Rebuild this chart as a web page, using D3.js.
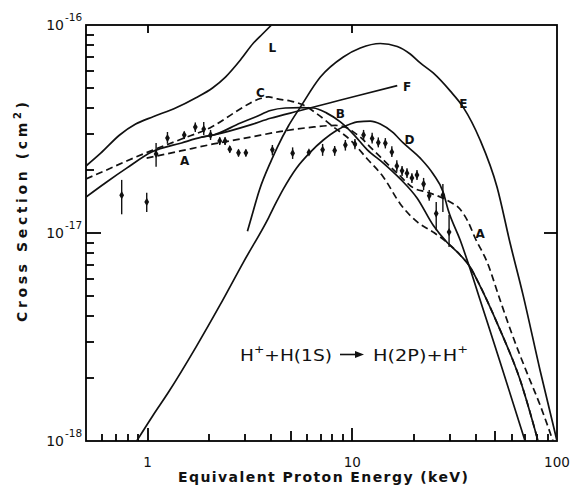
<!DOCTYPE html>
<html><head><meta charset="utf-8">
<script src="https://cdn.jsdelivr.net/npm/d3@7"></script>
<style>body{margin:0;background:#fff}svg{display:block}text{fill:#111}</style>
</head><body>
<svg id="c" width="573" height="496"></svg>
<script>
// ---- data: energy (keV), cross section in units of 1e-17 cm^2 ----
const UNIT = 1e-17;
const curveL = [[0.5,2.10],[0.59,2.42],[0.73,2.96],[0.874,3.34],[1.07,3.63],[1.385,4.01],[1.714,4.46],[2.075,4.98],[2.40,5.62],[2.84,6.79],[3.29,8.19],[3.64,9.05],[4.03,10]];
const curveC = [[0.5,1.82],[0.631,2.01],[0.79,2.22],[1.046,2.49],[1.465,2.83],[2.052,3.23],[2.687,3.82],[3.18,4.22],[3.558,4.43],[3.892,4.51],[4.306,4.41],[4.984,4.31],[5.768,4.12],[6.75,3.73],[8.078,3.24],[9.777,2.80],[11.84,2.27],[14.17,1.86],[17.15,1.38],[20.75,1.13],[24.84,1.01],[29.07,0.90],[33.64,0.784],[37.64,0.686],[40.72,0.594],[52.72,0.342],[66.01,0.197],[80.8,0.1]];
const curveB = [[0.5,1.49],[0.631,1.76],[0.79,2.05],[1.046,2.45],[1.465,2.71],[1.834,2.89],[2.099,2.96],[2.842,3.38],[3.364,3.61],[3.981,3.88],[4.711,3.99],[5.577,4.01],[6.454,3.99],[7.468,3.78],[8.74,3.42],[10.11,2.99],[11.84,2.51],[14.17,2.17],[17.15,1.82],[20.75,1.47],[24.84,1.09],[29.07,0.90],[33.64,0.784],[37.64,0.686],[40.72,0.594],[52.72,0.342],[66.01,0.197],[80.8,0.1]];
const curveF = [[1.834,2.89],[2.099,2.96],[3.18,3.31],[3.981,3.56],[5.577,3.88],[7.811,4.23],[10.94,4.61],[16.58,5.11]];
const curveD = [[0.884,0.1],[1.058,0.132],[1.266,0.172],[1.734,0.286],[2.245,0.446],[2.94,0.725],[3.892,1.18],[4.259,1.41],[4.607,1.63],[5.332,2.05],[6.24,2.45],[7.221,2.80],[8.449,3.13],[9.777,3.34],[10.58,3.42],[12.24,3.45],[13.7,3.34],[15.67,3.06],[17.74,2.71],[21.47,2.29],[24.84,1.92],[27.8,1.57],[29.4,1.29],[33.64,0.925],[37.64,0.671],[42.11,0.476],[52.72,0.240],[69.83,0.1]];
const curveE = [[3.075,1.02],[3.216,1.19],[3.518,1.61],[4.027,2.24],[4.306,2.59],[4.873,3.27],[5.577,4.03],[6.982,5.62],[9.04,7.02],[10.94,7.75],[13.7,8.15],[16.58,7.88],[19.18,7.25],[21.47,6.57],[24.84,5.88],[30.06,4.82],[34.79,4.03],[42.11,2.80],[50.97,1.66],[58.99,0.895],[68.28,0.503],[82.64,0.219],[100,0.1]];
const curveA = [[0.989,2.29],[1.449,2.48],[2.099,2.68],[3.18,2.89],[4.404,3.07],[6.24,3.22],[8.263,3.29],[9.245,3.23],[10.0,3.09],[10.94,2.89],[12.24,2.59],[13.7,2.32],[16.58,1.94],[19.84,1.65],[23.22,1.57],[26.87,1.49],[30.06,1.41],[33.64,1.30],[36.81,1.13],[39.81,0.946],[45.56,0.725],[52.72,0.476],[61.02,0.316],[71.43,0.212],[82.64,0.149],[95.6,0.1]];
// measured points: [energy, value, low, high]
const measured = [[0.747,1.52,1.23,1.80],[0.99,1.41,1.26,1.56],[1.10,2.40,2.08,2.71],[1.25,2.86,2.69,3.06],[1.51,2.96,2.83,3.08],[1.71,3.23,3.06,3.40],[1.88,3.16,2.96,3.42],[2.03,2.96,2.80,3.13],[2.25,2.77,2.65,2.89],[2.39,2.77,2.65,2.89],[2.52,2.53,2.43,2.62],[2.78,2.43,2.33,2.52],[3.02,2.43,2.33,2.52],[4.07,2.51,2.36,2.65],[5.11,2.42,2.27,2.58],[6.14,2.44,2.41,2.47],[7.16,2.51,2.35,2.68],[8.20,2.49,2.35,2.62],[9.25,2.65,2.49,2.80],[10.3,2.68,2.53,2.83],[11.35,2.96,2.80,3.13],[12.5,2.85,2.69,3.03],[13.4,2.72,2.58,2.88],[14.5,2.70,2.55,2.86],[15.6,2.45,2.32,2.61],[16.5,2.10,1.97,2.24],[17.5,1.99,1.88,2.10],[18.5,1.94,1.84,2.05],[19.55,1.84,1.74,1.94],[20.7,1.90,1.80,2.01],[22.3,1.72,1.61,1.84],[23.75,1.51,1.43,1.61],[25.7,1.24,1.03,1.41],[27.7,1.52,1.26,1.72],[29.7,1.01,0.857,1.22]];
const curveLabels = [["L",4.07,7.84],["C",3.56,4.76],["B",8.74,3.78],["F",18.5,5.09],["E",34.9,4.20],["D",19.0,2.83],["A",1.515,2.24],["A",42.1,1.0]];
const xTickLabels = [[1,"1"],[10,"10"],[100,"100"]];
const yTickExponents = [-16,-17,-18];
const xMinor = [0.6,0.7,0.8,0.9,2,3,4,6,7,8,9,20,30,40,60,70,80,90];
const xMid = [5,50];
const xMajor = [1,10];
const yMinor = [2e-18,3e-18,4e-18,5e-18,6e-18,7e-18,8e-18,9e-18,2e-17,3e-17,4e-17,5e-17,6e-17,7e-17,8e-17,9e-17];
const yMajor = [1e-17];

const svg = d3.select("#c");
const L = 86, R = 557, T = 25, B = 441;
const x = d3.scaleLog().domain([0.5,100]).range([L,R]);
const y = d3.scaleLog().domain([1e-18,1e-16]).range([B,T]);
const FONT = "'DejaVu Sans', sans-serif";

svg.append("defs").append("clipPath").attr("id","clip")
  .append("rect").attr("x",L).attr("y",T).attr("width",R-L).attr("height",B-T);

// ticks (inside the frame)
const tg = svg.append("g").attr("stroke","#000").attr("stroke-width",1.8);
function xTicks(vals, y0, len){
  tg.selectAll(null).data(vals).join("line")
    .attr("x1",d=>Math.round(x(d))).attr("x2",d=>Math.round(x(d))).attr("y1",y0).attr("y2",y0+len);
}
function yTicks(vals, x0, len){
  tg.selectAll(null).data(vals).join("line")
    .attr("y1",d=>Math.round(y(d))).attr("y2",d=>Math.round(y(d))).attr("x1",x0).attr("x2",x0+len);
}
xTicks(xMinor, B, -7);
xTicks(xMid, B, -10);
xTicks(xMajor, B, -13);
xTicks(xMajor, T, 8);
yTicks(yMinor, L, 8);
yTicks(yMajor, L, 15);
yTicks(yMajor, R, -13);

// frame
svg.append("rect").attr("x",L).attr("y",T).attr("width",R-L).attr("height",B-T)
  .attr("fill","none").attr("stroke","#000").attr("stroke-width",1.8);

// tick labels
svg.selectAll(".xl").data(xTickLabels).join("text")
  .attr("x",d=>x(d[0])).attr("y",467).attr("text-anchor","middle")
  .attr("font-family",FONT).attr("font-size",13.5).text(d=>d[1]);
yTickExponents.forEach(e=>{
  const yy = y(Math.pow(10,e));
  svg.append("text").attr("x",64).attr("y",yy+5).attr("text-anchor","end")
    .attr("font-family",FONT).attr("font-size",14).text("10");
  svg.append("text").attr("x",65).attr("y",yy-4).attr("font-family",FONT)
    .attr("font-size",10.5).text(String(e));
});

// axis titles
svg.append("text").attr("x",323).attr("y",482).attr("text-anchor","middle")
  .attr("font-family",FONT).attr("font-size",14).attr("font-weight","bold")
  .attr("textLength",290).attr("lengthAdjust","spacing")
  .text("Equivalent Proton Energy (keV)");
const yt = svg.append("text").attr("transform","translate(27,212) rotate(-90)")
  .attr("text-anchor","middle").attr("font-family",FONT).attr("font-size",14)
  .attr("font-weight","bold").attr("textLength",220).attr("lengthAdjust","spacing");
yt.append("tspan").text("Cross Section (cm");
yt.append("tspan").attr("font-size",10).attr("dy",-6).text("2");
yt.append("tspan").attr("dy",6).text(")");

// curves
const line = d3.line().x(d=>x(d[0])).y(d=>y(d[1]*UNIT)).curve(d3.curveMonotoneX);
const plot = svg.append("g").attr("clip-path","url(#clip)");
const series = [
  {d:curveL, dash:null},{d:curveE, dash:null},{d:curveD, dash:null},
  {d:curveB, dash:null},{d:curveF, dash:null},
  {d:curveC, dash:"7,4"},{d:curveA, dash:"7,4"}
];
series.forEach(s=>{
  plot.append("path").attr("d",line(s.d)).attr("fill","none").attr("stroke","#111")
    .attr("stroke-width",1.7).attr("stroke-dasharray",s.dash);
});

// measured points
const pg = plot.append("g");
pg.selectAll("line").data(measured).join("line")
  .attr("x1",d=>x(d[0])).attr("x2",d=>x(d[0]))
  .attr("y1",d=>y(d[2]*UNIT)).attr("y2",d=>y(d[3]*UNIT))
  .attr("stroke","#111").attr("stroke-width",1.4);
const sym = d3.symbol().type(d3.symbolDiamond).size(20);
pg.selectAll("path").data(measured).join("path")
  .attr("d",sym).attr("transform",d=>`translate(${x(d[0])},${y(d[1]*UNIT)})`)
  .attr("fill","#111");

// curve labels
svg.selectAll(".cl").data(curveLabels).join("text")
  .attr("x",d=>x(d[1])).attr("y",d=>y(d[2]*UNIT)+5).attr("text-anchor","middle")
  .attr("font-family",FONT).attr("font-size",12).attr("font-weight","bold").text(d=>d[0]);

// reaction equation
const eq1 = svg.append("text").attr("x",240).attr("y",361).attr("font-family",FONT)
  .attr("font-size",16.5).attr("textLength",92).attr("lengthAdjust","spacingAndGlyphs");
eq1.append("tspan").text("H");
eq1.append("tspan").attr("font-size",11).attr("dy",-8).text("+");
eq1.append("tspan").attr("dy",8).text("+H(1S)");
const eq2 = svg.append("text").attr("x",373).attr("y",361).attr("font-family",FONT)
  .attr("font-size",16.5).attr("textLength",95).attr("lengthAdjust","spacingAndGlyphs");
eq2.append("tspan").text("H(2P)+H");
eq2.append("tspan").attr("font-size",11).attr("dy",-8).text("+");
svg.append("line").attr("x1",340).attr("x2",356).attr("y1",354.5).attr("y2",354.5)
  .attr("stroke","#111").attr("stroke-width",1.6);
svg.append("path").attr("d","M355,351 L364,354.5 L355,358 Z").attr("fill","#111");
</script>
</body></html>
